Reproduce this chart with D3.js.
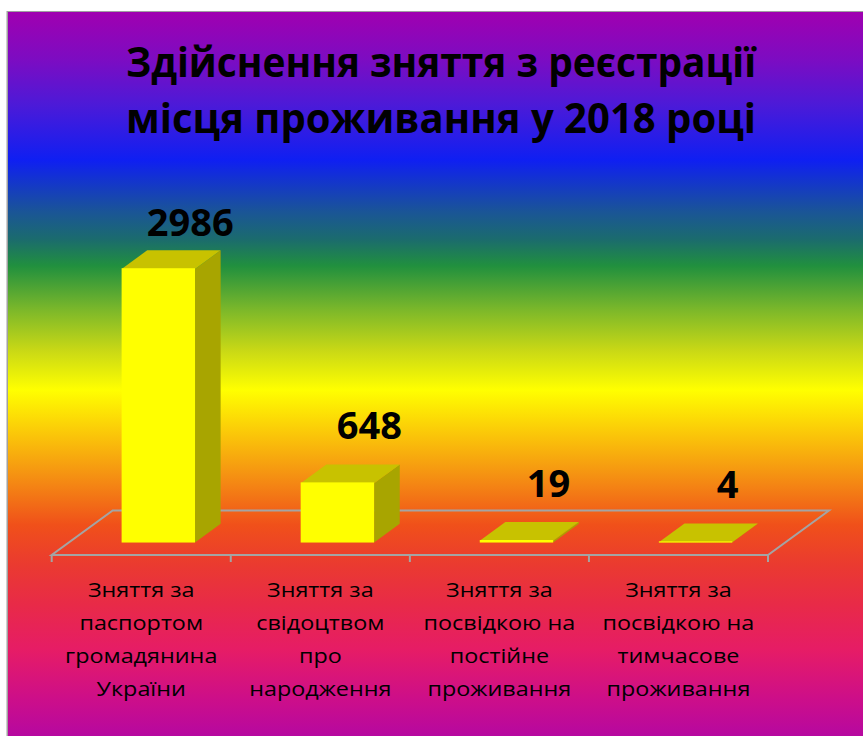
<!DOCTYPE html>
<html>
<head>
<meta charset="utf-8">
<script src="https://cdn.jsdelivr.net/npm/d3@7"></script>
<style>
  html, body { margin: 0; padding: 0; background: #ffffff; }
  svg { display: block; }
</style>
</head>
<body>
<svg id="chart" width="863" height="736"></svg>
<script>
// ---- data ----
const titleLines = ["Здійснення зняття з реєстрації", "місця проживання у 2018 році"];
const categories = [
  ["Зняття за", "паспортом", "громадянина", "України"],
  ["Зняття за", "свідоцтвом", "про", "народження"],
  ["Зняття за", "посвідкою на", "постійне", "проживання"],
  ["Зняття за", "посвідкою на", "тимчасове", "проживання"]
];
const categoryKeys = ["c1", "c2", "c3", "c4"];
const values = [2986, 648, 19, 4];
const valueLabels = ["2986", "648", "19", "4"];

// ---- layout ----
const W = 863, H = 736;
const svg = d3.select("#chart");
const defs = svg.append("defs");

const grad = defs.append("linearGradient")
  .attr("id", "rainbow").attr("x1", 0).attr("y1", 0).attr("x2", 0).attr("y2", 1);
const bgTop = 12, bgBottom = H;
const stops = [
  [12, "#a000b0"], [60, "#7c0cc2"], [105, "#4c1ad8"], [160, "#0f1ff2"],
  [212, "#1a5596"], [240, "#1b6c6c"], [266, "#21903e"], [310, "#7cb82a"],
  [350, "#c8d816"], [390, "#ffff00"], [430, "#fbcc08"], [475, "#f59212"],
  [525, "#f0501a"], [565, "#ea3a30"], [605, "#e82a48"], [650, "#e61c66"],
  [700, "#cc0e8a"], [736, "#b608a0"]
];
grad.selectAll("stop").data(stops).join("stop")
  .attr("offset", d => (d[0] - bgTop) / (bgBottom - bgTop))
  .attr("stop-color", d => d[1]);

// border + background
svg.append("rect").attr("x", 6.5).attr("y", 11).attr("width", W).attr("height", H)
  .attr("fill", "#a0a0a0");
svg.append("rect").attr("x", 8).attr("y", bgTop).attr("width", W - 8).attr("height", bgBottom - bgTop)
  .attr("fill", "url(#rainbow)");

// title
svg.append("g").selectAll("text").data(titleLines).join("text")
  .attr("x", 441).attr("y", (d, i) => 77 + i * 56)
  .attr("text-anchor", "middle")
  .attr("font-family", "'Open Sans', 'Noto Sans', sans-serif")
  .attr("font-weight", 700).attr("font-size", 41)
  .attr("textLength", 630).attr("lengthAdjust", "spacingAndGlyphs")
  .attr("fill", "#000")
  .text(d => d);

// floor geometry (oblique projection)
const frontY = 555, frontL = 51.7, frontR = 768;
const D = { x: 61, y: -44.5 };
const z1 = 0.28, z2 = 0.70;

const x = d3.scaleBand().domain(categoryKeys).range([frontL, frontR]).paddingInner(0).paddingOuter(0);
const h = d3.scaleLinear().domain([0, 3000]).range([0, 274.8]);

// floor outline
const floorPts = [[frontL, frontY], [frontR, frontY], [frontR + D.x, frontY + D.y], [frontL + D.x, frontY + D.y]];
svg.append("polygon")
  .attr("points", floorPts.map(p => p.join(",")).join(" "))
  .attr("fill", "none").attr("stroke", "#a4a4a4").attr("stroke-width", 2);

// ticks
const tickXs = categoryKeys.map(k => x(k)).concat([frontR]);
svg.append("g").selectAll("line").data(tickXs).join("line")
  .attr("x1", d => d).attr("x2", d => d)
  .attr("y1", frontY).attr("y2", frontY + 7)
  .attr("stroke", "#a4a4a4").attr("stroke-width", 2);

// bars
const bw = x.bandwidth();
const dz = { x: (z2 - z1) * D.x, y: (z2 - z1) * D.y };
const bars = svg.append("g").selectAll("g").data(values.map((v, i) => ({ v, k: categoryKeys[i], lab: valueLabels[i] })))
  .join("g");

function geom(d) {
  const L = x(d.k) + 0.295 * bw + z1 * D.x;
  const R = x(d.k) + 0.705 * bw + z1 * D.x;
  const bottom = frontY + z1 * D.y;
  const top = bottom - h(d.v);
  return { L, R, bottom, top };
}
const pts = a => a.map(p => p.join(",")).join(" ");

bars.append("polygon") // side
  .attr("points", d => { const g = geom(d); return pts([[g.R, g.top], [g.R + dz.x, g.top + dz.y], [g.R + dz.x, g.bottom + dz.y], [g.R, g.bottom]]); })
  .attr("fill", "#a8a500");
bars.append("polygon") // top
  .attr("points", d => { const g = geom(d); return pts([[g.L, g.top], [g.R, g.top], [g.R + dz.x, g.top + dz.y], [g.L + dz.x, g.top + dz.y]]); })
  .attr("fill", "#c8c200");
bars.append("rect") // front
  .attr("x", d => geom(d).L).attr("y", d => geom(d).top - 0.8)
  .attr("width", d => geom(d).R - geom(d).L)
  .attr("height", d => geom(d).bottom - geom(d).top + 0.8)
  .attr("fill", "#ffff00");

// value labels
bars.append("text")
  .attr("x", d => (geom(d).L + geom(d).R) / 2 + 32)
  .attr("y", d => Math.max(geom(d).top - 44, 236))
  .attr("text-anchor", "middle")
  .attr("font-family", "'Open Sans', 'Noto Sans', sans-serif")
  .attr("font-weight", 700).attr("font-size", 38)
  .attr("fill", "#000")
  .text(d => d.lab);

// category labels (slightly widened to match the reference face)
const catG = svg.append("g").selectAll("text").data(categories.map((c, i) => ({ c, k: categoryKeys[i] })))
  .join("text")
  .attr("transform", d => `translate(${x(d.k) + bw / 2},0) scale(1.14,1)`)
  .attr("text-anchor", "middle")
  .attr("font-family", "'Open Sans', 'Noto Sans', sans-serif")
  .attr("font-size", 20.5)
  .attr("fill", "#000");
catG.selectAll("tspan").data(d => d.c)
  .join("tspan")
  .attr("x", 0)
  .attr("y", (d, i) => 597 + i * 33)
  .text(d => d);
</script>
</body>
</html>
